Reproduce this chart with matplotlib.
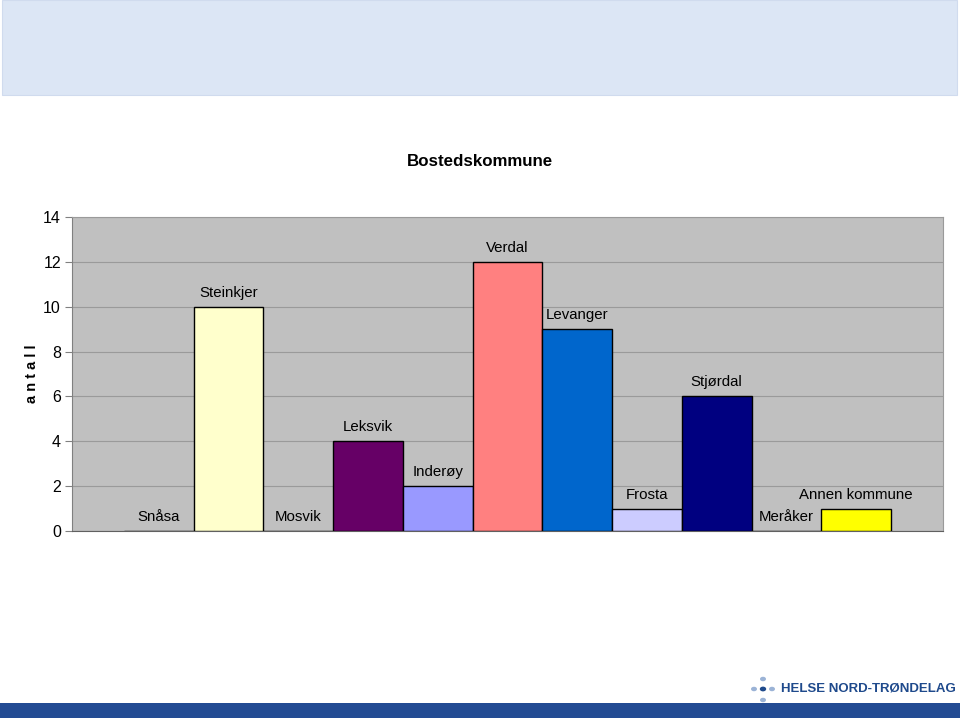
import matplotlib
matplotlib.use("Agg")
import matplotlib.pyplot as plt
from matplotlib.patches import Rectangle, Circle

plt.rcParams['font.family'] = ['Liberation Sans', 'DejaVu Sans']

kommuner = ["Snåsa", "Steinkjer", "Mosvik", "Leksvik", "Inderøy", "Verdal",
            "Levanger", "Frosta", "Stjørdal", "Meråker", "Annen kommune"]
antall = [0, 10, 0, 4, 2, 12, 9, 1, 6, 0, 1]
farger = ["#993366", "#FFFFCC", "#CCFFFF", "#660066", "#9999FF", "#FF8080",
          "#0066CC", "#CCCCFF", "#000080", "#FF00FF", "#FFFF00"]
yticks = [0, 2, 4, 6, 8, 10, 12, 14]

W, H = 960, 718
fig = plt.figure(figsize=(W / 100, H / 100), dpi=100)

# top band and bottom strip
fig.patches.append(Rectangle((2 / W, 1 - 95 / H), 955 / W, 95 / H, transform=fig.transFigure,
                             facecolor="#dce6f5", edgecolor="#d0dbee", lw=0.8, zorder=0))
fig.patches.append(Rectangle((0, 0), 1, 15 / H, transform=fig.transFigure,
                             facecolor="#234b93", edgecolor="none", zorder=0))

ax = fig.add_axes([72 / W, 1 - 531 / H, (943 - 72) / W, (531 - 217) / H])
ax.set_facecolor("#c0c0c0")
x = list(range(len(kommuner)))
ax.bar(x, antall, width=1.0, color=farger, edgecolor="black", linewidth=1.0, zorder=3)
for xi, v, navn in zip(x, antall, kommuner):
    ax.annotate(navn, (xi, v), xytext=(0, 5), textcoords="offset points",
                ha="center", va="bottom", fontsize=10.8, zorder=4)

ax.set_xlim(-1.246, 11.246)
ax.set_ylim(0, 14)
ax.set_yticks(yticks)
ax.set_xticks([])
ax.yaxis.grid(True, color="#9a9a9a", lw=0.8, zorder=1)
ax.set_axisbelow(True)
ax.tick_params(axis="y", labelsize=11.5, length=5, color="#808080", pad=3)
for s in ["top", "right"]:
    ax.spines[s].set_color("#9a9a9a")
    ax.spines[s].set_linewidth(0.8)
ax.spines["left"].set_color("#808080")
ax.spines["bottom"].set_color("#606060")
ax.set_ylabel("a n t a l l", fontsize=10.5, fontweight="bold")
ax.yaxis.set_label_coords(-0.038, 0.5)
fig.text(0.5, 1 - 161 / H, "Bostedskommune", fontsize=12.2, fontweight="bold",
         ha="center", va="center")

# logo
fig.text(781 / W, 1 - 689 / H, "HELSE NORD-TRØNDELAG", fontsize=9.5, fontweight="bold",
         color="#1f4a8c", va="center", ha="left")
for (cx, cy, r, c) in [(763, 679, 3, "#9bb3d6"), (763, 700, 3, "#9bb3d6"),
                       (754, 689, 3, "#9bb3d6"), (772, 689, 3, "#9bb3d6"),
                       (763, 689, 3.2, "#1f4a8c")]:
    fig.patches.append(Circle((cx / W, 1 - cy / H), r / W, transform=fig.transFigure,
                              facecolor=c, edgecolor="none"))

fig.savefig("out.png", dpi=100)
